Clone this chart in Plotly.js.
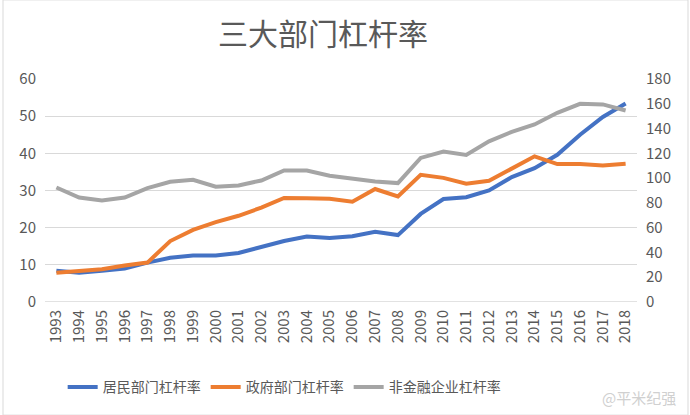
<!DOCTYPE html>
<html>
<head>
<meta charset="utf-8">
<script src="https://cdn.plot.ly/plotly-3.0.1.min.js"></script>
<style>
html,body{margin:0;padding:0;background:#fff;}
#chart{width:690px;height:415px;}
</style>
</head>
<body>
<div id="chart"></div>
<script>
var years = ["1993","1994","1995","1996","1997","1998","1999","2000","2001","2002","2003","2004","2005","2006","2007","2008","2009","2010","2011","2012","2013","2014","2015","2016","2017","2018"];
var household = [8.4,7.9,8.4,9.0,10.6,11.9,12.5,12.5,13.2,14.7,16.4,17.6,17.2,17.7,18.9,18.0,23.7,27.7,28.2,30.0,33.6,36.0,39.6,45.0,49.8,53.4];
var government = [7.9,8.3,8.8,9.8,10.6,16.4,19.4,21.5,23.2,25.4,28.0,27.9,27.8,27.0,30.4,28.4,34.2,33.4,31.8,32.6,36.0,39.2,37.1,37.1,36.7,37.2];
var corporate = [92.4,84.3,81.9,84.3,91.9,97.0,98.7,93.0,94.1,98.1,106.2,106.2,101.9,99.7,97.3,96.0,116.3,121.4,118.7,129.7,137.3,143.3,152.7,160.0,159.5,154.6];
var names = ["居民部门杠杆率","政府部门杠杆率","非金融企业杠杆率"];
var titleText = "三大部门杠杆率";

var font = "'Noto Sans CJK SC', 'Noto Sans', sans-serif";
var traces = [
  {x: years, y: household, name: names[0], type: "scatter", mode: "lines", line: {color: "#4472C4", width: 4}},
  {x: years, y: government, name: names[1], type: "scatter", mode: "lines", line: {color: "#ED7D31", width: 4}},
  {x: years, y: corporate, name: names[2], type: "scatter", mode: "lines", yaxis: "y2", line: {color: "#A5A5A5", width: 4}}
];
var layout = {
  width: 690, height: 415,
  margin: {l: 45, r: 53, t: 79, b: 113},
  paper_bgcolor: "#fff", plot_bgcolor: "#fff",
  font: {family: font, color: "#595959", size: 15},
  title: {text: titleText, font: {family: font, size: 30, color: "#595959"}, x: 0.468, xanchor: "center", y: 0.916, yanchor: "middle", yref: "container"},
  showlegend: true,
  legend: {orientation: "h", x: 0.404, xanchor: "center", y: -0.383, yanchor: "middle", font: {size: 14, color: "#595959"}, itemwidth: 30, tracegroupgap: 0},
  xaxis: {type: "category", range: [-0.5, 25.5], tickangle: -90, showgrid: false, zeroline: false, showline: false, ticks: "", ticklabelstandoff: 4, tickfont: {size: 15, color: "#595959"}, fixedrange: true},
  yaxis: {range: [0, 60], dtick: 10, showgrid: true, gridcolor: "#D9D9D9", gridwidth: 1.3, zeroline: false, showline: false, ticks: "", ticklabelstandoff: 8, tickfont: {size: 15, color: "#595959"}},
  yaxis2: {range: [0, 180], dtick: 20, overlaying: "y", side: "right", showgrid: false, zeroline: false, showline: false, ticks: "", ticklabelstandoff: 8, tickfont: {size: 15, color: "#595959"}},
  shapes: [
    {type: "line", xref: "paper", yref: "y", x0: 0, x1: 1, y0: 0, y1: 0, line: {color: "#D9D9D9", width: 1.3}},
    {type: "rect", xref: "paper", yref: "paper", x0: -42/592, x1: 1 + 51/592, y0: 79/222.7 + 1, y1: -113/222.7, line: {color: "#D9D9D9", width: 1}}
  ],
  annotations: [
    {text: "@平米纪强", xref: "paper", yref: "paper", x: 1.07, xanchor: "right", y: -0.43, yanchor: "middle", showarrow: false, font: {size: 15, color: "#D0D0D0", family: font}}
  ]
};
Plotly.newPlot("chart", traces, layout, {displayModeBar: false, staticPlot: true});
</script>
</body>
</html>
